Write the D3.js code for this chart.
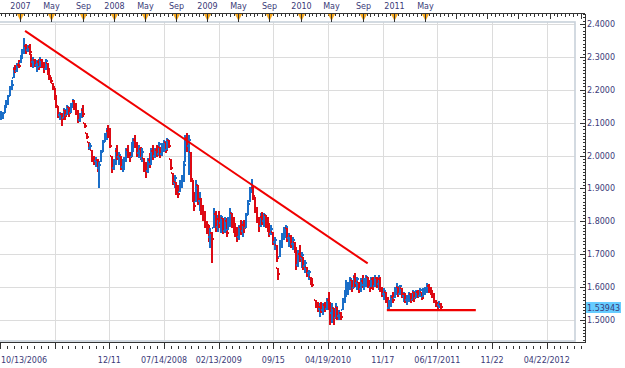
<!DOCTYPE html>
<html><head><meta charset="utf-8">
<script src="https://cdn.jsdelivr.net/npm/d3@7"></script>
<style>
body{margin:0;background:#fff}
svg{display:block}
text{font-family:"DejaVu Sans",Verdana,sans-serif;font-size:8px;fill:#3a3a78}
</style>
</head><body>
<svg id="c" width="625" height="368"></svg>
<script>
// ---------- data (weekly bars, first bar week of 2006-10-13) ----------
const firstBar = "2006-10-13";
const highs = [
2.135,2.132,2.155,2.170,2.185,2.210,2.230,2.270,2.275,2.280,
2.290,2.305,2.325,2.357,2.340,2.335,2.340,2.310,2.300,2.295,
2.290,2.295,2.300,2.295,2.285,2.295,2.280,2.265,2.240,2.220,
2.205,2.180,2.150,2.132,2.130,2.145,2.138,2.155,2.148,2.160,
2.172,2.170,2.160,2.138,2.130,2.145,2.155,2.100,2.070,2.040,
2.037,2.017,2.000,1.995,1.990,1.980,2.017,2.047,2.070,2.083,
2.093,2.083,2.000,1.990,2.023,2.032,2.010,2.000,1.990,1.995,
2.023,2.032,2.010,2.040,2.053,2.063,2.040,2.032,2.025,2.023,
1.992,1.980,1.992,2.007,2.023,2.032,2.023,2.032,2.040,2.025,
2.038,2.047,2.040,2.053,2.047,1.990,1.947,1.940,1.920,1.910,
1.925,1.940,1.980,2.063,2.070,2.063,2.010,1.925,1.890,1.925,
1.910,1.890,1.870,1.850,1.830,1.800,1.790,1.780,1.768,1.840,
1.830,1.820,1.830,1.820,1.810,1.813,1.810,1.813,1.840,1.825,
1.813,1.795,1.783,1.790,1.805,1.800,1.805,1.825,1.865,1.905,
1.930,1.910,1.875,1.845,1.813,1.825,1.828,1.825,1.820,1.813,
1.795,1.790,1.768,1.752,1.728,1.658,1.743,1.765,1.783,1.790,
1.780,1.765,1.758,1.752,1.738,1.722,1.713,1.728,1.707,1.692,
1.682,1.662,1.652,1.632,1.628,null,1.561,1.555,1.552,1.555,
1.552,1.555,1.567,1.585,1.555,1.552,1.537,1.552,1.540,1.530,
1.525,1.567,1.591,1.622,1.616,1.632,1.622,1.637,1.643,1.632,
1.616,1.628,1.637,1.628,1.637,1.632,1.622,1.632,1.632,1.637,
1.632,1.637,1.632,1.600,1.597,1.585,1.570,1.560,1.576,1.585,
1.600,1.612,1.600,1.607,1.597,1.585,1.582,1.576,1.585,1.582,
1.591,1.585,1.591,1.591,1.597,1.585,1.597,1.600,1.612,1.610,
1.600,1.591,1.582,1.561,1.555,1.558,1.552];
const lows = [
2.108,2.110,2.130,2.145,2.155,2.180,2.200,2.235,2.250,2.255,
2.265,2.280,2.295,2.310,2.310,2.315,2.310,2.270,2.265,2.270,
2.255,2.260,2.270,2.265,2.250,2.260,2.245,2.230,2.220,2.200,
2.170,2.145,2.115,2.108,2.090,2.115,2.108,2.123,2.117,2.130,
2.145,2.140,2.123,2.100,2.102,2.115,2.117,2.085,2.050,2.017,
2.017,1.980,1.970,1.965,1.950,1.900,1.980,2.010,2.040,2.047,
2.053,2.023,1.947,1.955,1.970,1.985,1.970,1.955,1.950,1.955,
1.980,1.992,1.980,1.995,2.010,2.023,1.995,1.992,1.985,1.980,
1.950,1.932,1.947,1.962,1.970,1.985,1.992,1.995,2.000,1.992,
2.000,2.010,2.008,2.017,2.023,1.955,1.910,1.900,1.880,1.870,
1.890,1.900,1.920,1.980,2.010,1.940,1.920,1.860,1.830,1.860,
1.850,1.830,1.820,1.800,1.780,1.760,1.738,1.720,1.673,1.780,
1.768,1.768,1.780,1.765,1.760,1.765,1.753,1.773,1.783,1.780,
1.765,1.752,1.738,1.743,1.758,1.752,1.765,1.780,1.820,1.860,
1.885,1.865,1.825,1.795,1.768,1.783,1.790,1.783,1.780,1.768,
1.752,1.758,1.728,1.713,1.676,1.622,1.692,1.719,1.743,1.750,
1.738,1.722,1.719,1.713,1.703,1.652,1.662,1.676,1.658,1.652,
1.643,1.630,1.622,1.607,1.600,null,1.537,1.525,1.510,1.522,
1.515,1.525,1.530,1.530,1.485,1.491,1.485,1.506,1.500,1.500,
1.500,1.530,1.552,1.570,1.576,1.590,1.585,1.597,1.600,1.590,
1.582,1.585,1.597,1.590,1.600,1.597,1.585,1.600,1.590,1.600,
1.597,1.590,1.585,1.570,1.560,1.552,1.530,1.530,1.540,1.552,
1.567,1.576,1.570,1.576,1.567,1.555,1.552,1.546,1.555,1.552,
1.560,1.555,1.567,1.567,1.570,1.560,1.570,1.576,1.582,1.582,
1.576,1.567,1.552,1.540,1.533,1.535,1.532];
const closes = [
2.118,2.128,2.150,2.162,2.180,2.204,2.214,2.262,2.256,2.276,
2.272,2.300,2.318,2.334,2.322,2.330,2.316,2.284,2.292,2.276,
2.284,2.270,2.292,2.281,2.262,2.288,2.254,2.241,2.226,2.208,
2.182,2.151,2.123,2.127,2.112,2.138,2.120,2.149,2.128,2.155,
2.166,2.147,2.131,2.108,2.124,2.140,2.126,2.090,2.056,2.024,
2.030,1.992,1.984,1.988,1.962,1.972,2.010,2.040,2.052,2.076,
2.064,2.030,1.962,1.984,2.015,1.996,2.002,1.966,1.978,1.990,
2.016,2.004,1.996,2.034,2.046,2.030,2.008,2.020,1.994,2.012,
1.962,1.954,1.985,1.974,2.014,2.000,2.018,2.006,2.034,2.004,
2.030,2.040,2.016,2.048,2.030,1.962,1.918,1.932,1.890,1.884,
1.915,1.930,1.972,2.052,2.030,2.046,1.930,1.872,1.846,1.910,
1.862,1.868,1.834,1.826,1.792,1.788,1.752,1.764,1.745,1.822,
1.784,1.808,1.794,1.812,1.772,1.800,1.766,1.806,1.826,1.790,
1.778,1.770,1.752,1.782,1.770,1.788,1.779,1.818,1.852,1.896,
1.902,1.876,1.834,1.808,1.786,1.814,1.800,1.818,1.790,1.780,
1.762,1.778,1.736,1.744,1.690,1.640,1.730,1.752,1.760,1.782,
1.748,1.756,1.730,1.744,1.712,1.668,1.700,1.690,1.698,1.664,
1.672,1.642,1.646,1.614,1.606,null,1.552,1.532,1.540,1.530,
1.546,1.534,1.560,1.542,1.520,1.536,1.506,1.540,1.512,1.522,
1.510,1.560,1.584,1.596,1.608,1.626,1.598,1.630,1.612,1.624,
1.594,1.620,1.606,1.618,1.630,1.604,1.598,1.626,1.602,1.628,
1.610,1.626,1.596,1.580,1.588,1.560,1.538,1.552,1.570,1.562,
1.594,1.600,1.580,1.602,1.572,1.578,1.560,1.570,1.580,1.562,
1.586,1.566,1.584,1.574,1.592,1.568,1.590,1.596,1.604,1.596,
1.584,1.572,1.558,1.548,1.545,1.550,1.53943];
const lastPrice = 1.53943;

const priceTicks = [2.4,2.3,2.2,2.1,2.0,1.9,1.8,1.7,1.6,1.5];
const topTickDates = ["2007-01-01","2007-05-01","2007-09-01","2008-01-01","2008-05-01","2008-09-01",
  "2009-01-01","2009-05-01","2009-09-01","2010-01-01","2010-05-01","2010-09-01","2011-01-01","2011-05-01"];
const topTickLabels = ["2007","May","Sep","2008","May","Sep","2009","May","Sep","2010","May","Sep","2011","May"];
const bottomTickLabels = ["10/13/2006","","12/11","07/14/2008","02/13/2009","09/15","04/19/2010","11/17","06/17/2011","11/22","04/22/2012"];
const barsPerBottomTick = 150;
const totalBarSlots = 1605;
const trendLine = [["2007-01-19",2.379],["2010-09-20",1.672]];
const supportLine = [["2010-12-04",1.530],["2011-11-17",1.530]];

// ---------- layout ----------
const W=625,H=368;
const frameR=585, plotR=575, plotT=22, plotB=341, topAxisY=13.5, botAxisY=342.5;
const parse = d3.timeParse("%Y-%m-%d");
const t0 = parse(firstBar);
const tEnd = d3.timeDay.offset(t0, 2288);
const x = d3.scaleTime().domain([t0, tEnd]).range([0, frameR]);
const y = d3.scaleLinear().domain([1.5, 2.4]).range([320, 24]);
const xi = d3.scaleLinear().domain([0, totalBarSlots]).range([0, frameR]);

const svg = d3.select("#c");
svg.append("rect").attr("width",W).attr("height",H).attr("fill","#fff");

const grid = svg.append("g").attr("shape-rendering","crispEdges").attr("stroke","#dcdcdc").attr("stroke-width",1);
priceTicks.forEach(v=>{
  const yy=Math.round(y(v))+0.5;
  grid.append("line").attr("x1",0).attr("x2",plotR).attr("y1",yy).attr("y2",yy);
});
bottomTickLabels.forEach((l,i)=>{
  if(i===0) return;
  const xx=Math.round(xi(i*barsPerBottomTick))+0.5;
  if(xx>plotR) return;
  grid.append("line").attr("x1",xx).attr("x2",xx).attr("y1",plotT).attr("y2",plotB);
});

// plot border
svg.append("rect").attr("x",-2).attr("y",plotT).attr("width",plotR+2).attr("height",plotB-plotT)
  .attr("fill","none").attr("stroke","#c8d1da").attr("stroke-width",1.6);

// OHLC bars (open = previous close)
const bars = [];
let prev = null;
closes.forEach((c,i)=>{
  if(c===null) return;
  const open = prev===null ? c : prev;
  bars.push({date:d3.timeDay.offset(t0,7*i), hi:highs[i], lo:lows[i], open:Math.min(Math.max(open,lows[i]),highs[i]), close:c, up:c>=open});
  prev=c;
});
const bg = svg.append("g").attr("shape-rendering","crispEdges");
const barG = bg.selectAll("g").data(bars).join("g")
  .attr("fill",d=>d.up?"#1a6ec8":"#dd0a14");
barG.append("rect")
  .attr("x",d=>Math.round(x(d.date)))
  .attr("width",2)
  .attr("y",d=>Math.round(y(d.hi)))
  .attr("height",d=>Math.max(1,Math.round(y(d.lo))-Math.round(y(d.hi))));
barG.append("rect")
  .attr("x",d=>Math.round(x(d.date))-1).attr("width",1).attr("height",2)
  .attr("y",d=>Math.round(y(d.open))-1);
barG.append("rect")
  .attr("x",d=>Math.round(x(d.date))+2).attr("width",1).attr("height",2)
  .attr("y",d=>Math.round(y(d.close))-1);

// drawn lines
const line = d3.line().x(d=>x(parse(d[0]))).y(d=>y(d[1]));
svg.append("path").attr("d",line(trendLine)).attr("stroke","#f00000").attr("stroke-width",2).attr("fill","none");
svg.append("path").attr("d",line(supportLine)).attr("stroke","#f00000").attr("stroke-width",2.4).attr("fill","none");

// top axis
const ax = svg.append("g").attr("shape-rendering","crispEdges").attr("stroke","#333");
const months = d3.timeMonth.range(d3.timeMonth.ceil(t0), tEnd);
const halfMonths = d3.timeDay.range(t0, tEnd).filter(d=>d.getDate()===16);
halfMonths.forEach(d=>{const xx=Math.round(x(d))+0.5; ax.append("line").attr("x1",xx).attr("x2",xx).attr("y1",topAxisY).attr("y2",16);});
months.forEach(d=>{
  const xx=Math.round(x(d))+0.5;
  const major = d.getMonth()%4===0;
  ax.append("line").attr("x1",xx).attr("x2",xx).attr("y1",topAxisY).attr("y2",major?18:17);
});
topTickDates.forEach((s,i)=>{
  const xx=Math.round(x(parse(s)))+0.5;
  svg.append("path").attr("d",`M${xx-3.5},14L${xx+3.5},14L${xx},21Z`).attr("fill","#f7a81e");
  svg.append("line").attr("x1",xx).attr("x2",xx).attr("y1",topAxisY).attr("y2",22).attr("stroke","#333").attr("shape-rendering","crispEdges");
  svg.append("text").attr("x",xx).attr("y",9).attr("text-anchor","middle").text(topTickLabels[i]);
});
months.filter(d=>d.getMonth()%4===0 && d>parse(topTickDates[topTickDates.length-1])).forEach(d=>{
  const xx=Math.round(x(d))+0.5;
  ax.append("line").attr("x1",xx).attr("x2",xx).attr("y1",topAxisY).attr("y2",19);
});
ax.append("line").attr("x1",0).attr("x2",frameR).attr("y1",topAxisY).attr("y2",topAxisY);

// right axis
ax.append("line").attr("x1",frameR+0.5).attr("x2",frameR+0.5).attr("y1",topAxisY).attr("y2",botAxisY+0.5);
d3.range(143,244).forEach(k=>{
  const v=k/100, yy=Math.round(y(v))+0.5;
  if(yy<topAxisY+1||yy>botAxisY) return;
  const major = k%10===0;
  ax.append("line").attr("x1",major?580:582.5).attr("x2",frameR).attr("y1",yy).attr("y2",yy);
});
priceTicks.forEach(v=>{
  svg.append("text").attr("x",587).attr("y",y(v)+3).text(d3.format(".4f")(v));
});

// bottom axis
ax.append("line").attr("x1",0).attr("x2",frameR).attr("y1",botAxisY).attr("y2",botAxisY);
d3.range(0,totalBarSlots,barsPerBottomTick/8).forEach((b,k)=>{
  const xx=Math.round(xi(b))+0.5;
  if(xx>frameR) return;
  const major = k%8===0;
  ax.append("line").attr("x1",xx).attr("x2",xx).attr("y1",major?botAxisY:345.5).attr("y2",348.5);
});
bottomTickLabels.forEach((l,i)=>{
  if(!l) return;
  const xx=xi(i*barsPerBottomTick);
  svg.append("text").attr("x",i===0?1:xx).attr("y",363).attr("text-anchor",i===0?"start":"middle").text(l);
});

// last price marker
const ly = y(lastPrice);
svg.append("rect").attr("x",frameR+1).attr("y",Math.round(ly)-5).attr("width",35).attr("height",11).attr("fill","#66ccff");
svg.append("text").attr("x",587).attr("y",Math.round(ly)+3.5).attr("fill","#222255").text(d3.format(".5f")(lastPrice));
</script>
</body></html>
